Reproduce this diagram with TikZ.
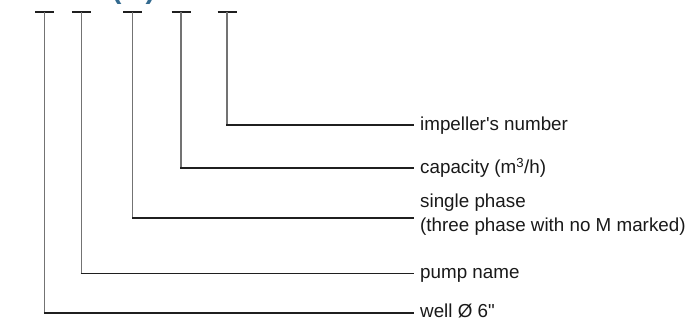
\documentclass[tikz,border=0pt]{standalone}
\usepackage{fontspec}
\setmainfont{Liberation Sans}
\begin{document}
\begin{tikzpicture}[x=1pt,y=-1pt,
  vline/.style={draw=black!55,line width=1.3pt},
  hline/.style={draw=black!88,line width=1.2pt},
  lbl/.style={anchor=base west,inner sep=0pt,font=\fontsize{18.8}{24}\selectfont,text=black!90,align=left},
  blue/.style={anchor=base,inner sep=0pt,font=\fontsize{29}{29}\selectfont\bfseries,text=blue!40!cyan!45!black!80}]
\useasboundingbox (0,0) rectangle (687,320);
% partial title above (cut off)
\node[blue] (ttl) at (133.5,-1) {(M)};
% tee tops
\foreach \n/\x in {a/44.5,b/81.3,c/132.8,d/181,e/227}{
  \coordinate (t\n) at (\x,12);
  \draw[hline] (\x-9.5,12) -- (\x+9.5,12);
}
% corners
\coordinate (ca) at (44.5,313);
\coordinate (cb) at (81.3,273.5);
\coordinate (cc) at (132.8,218);
\coordinate (cd) at (181,168);
\coordinate (ce) at (227,125);
% ends
\coordinate (ea) at (414,313);
\coordinate (eb) at (414,273.5);
\coordinate (ec) at (414,218);
\coordinate (ed) at (414,168);
\coordinate (ee) at (414,125);
% labels
\node[lbl] (le) at (420,130.5) {impeller\textquotesingle s number};
\node[lbl] (ld) at (420,173.5) {capacity (m\textsuperscript{3}/h)};
\node[lbl] (lc) at (420,231) {single phase\\(three phase with no M marked)};
\node[lbl] (lb) at (420,278) {pump name};
\node[lbl] (la) at (420,317.5) {well Ø 6\textquotedbl};
% connectors
\foreach \n in {a,b,c,d,e}{
  \draw[vline] (t\n) -- (c\n);
  \draw[hline] ([xshift=-0.6pt]c\n) -- (e\n);
}
\end{tikzpicture}
\end{document}
